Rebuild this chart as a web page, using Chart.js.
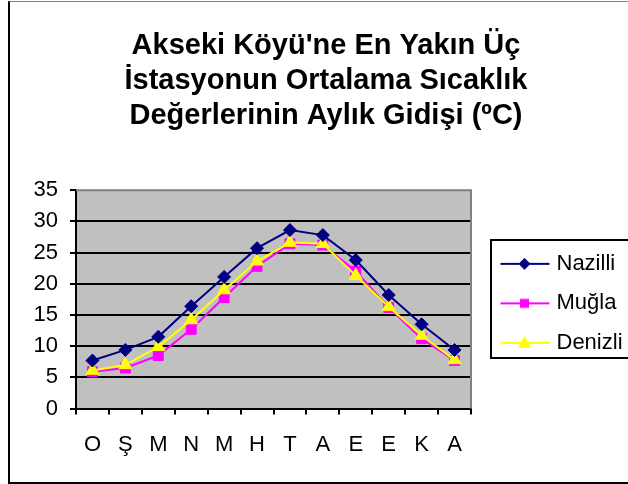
<!DOCTYPE html>
<html><head><meta charset="utf-8">
<script src="https://cdn.jsdelivr.net/npm/chart.js@4/dist/chart.umd.min.js"></script>
<style>
html,body{margin:0;padding:0;background:#fff;overflow:hidden;width:628px;height:484px;}
#wrap{position:absolute;left:0;top:0;width:652px;height:484px;}
#frame{position:absolute;left:8px;top:1px;width:700px;height:480px;border-left:2px solid #000;border-bottom:2px solid #000;border-top:1px solid #808080;pointer-events:none;}
canvas{position:absolute;left:0;top:0;}
</style></head><body>
<div id="wrap"><canvas id="c" width="652" height="484"></canvas><div id="frame"></div></div>
<script>
const months = ['O','Ş','M','N','M','H','T','A','E','E','K','A'];
const seriesNames = ['Nazilli','Muğla','Denizli'];
const nazilli = [7.7,9.4,11.5,16.4,21.1,25.7,28.6,27.8,23.8,18.2,13.5,9.4];
const mugla = [5.9,6.5,8.5,12.7,17.8,22.8,26.4,26.2,22.0,16.2,11.2,7.7];
const denizli = [6.1,7.0,9.9,14.2,19.0,23.6,26.6,26.4,21.3,16.3,11.7,7.8];
const yTicks = [0,5,10,15,20,25,30,35];
const titleLines = ["Akseki Köyü'ne En Yakın Üç","İstasyonun Ortalama Sıcaklık","Değerlerinin Aylık Gidişi (ºC)"];

const FONT = "'Liberation Sans', Arial, sans-serif";
const colors = ['#000080','#FF00FF','#FFFF00'];
const styles = ['rectRot','rect','triangle'];

function legendImg(color, style){
  const c = document.createElement('canvas');
  c.width = 70; c.height = 18;
  const g = c.getContext('2d');
  g.strokeStyle = color; g.lineWidth = 2;
  g.beginPath(); g.moveTo(18.5,9); g.lineTo(67.5,9); g.stroke();
  g.fillStyle = color;
  g.beginPath();
  const cx = 42.5;
  if (style==='rectRot'){ g.moveTo(cx,3); g.lineTo(cx+6,9); g.lineTo(cx,15); g.lineTo(cx-6,9); }
  else if (style==='rect'){ g.rect(cx-4.5,4.5,9,9); }
  else { g.moveTo(cx,2); g.lineTo(cx+6.5,14); g.lineTo(cx-6.5,14); }
  g.closePath(); g.fill();
  return c;
}
const legendImgs = colors.map((c,i)=>legendImg(c, styles[i]));

const plotDeco = {
  id:'plotDeco',
  beforeLayout(chart){
    const lg = chart.legend;
    if (lg && !lg._patched){
      const orig = lg.fit;
      lg.fit = function(){ orig.call(this); this.width = 153; };
      lg._patched = true;
    }
  },
  afterLayout(chart){
    const lg = chart.legend;
    if (lg){ lg.top += 4; lg.bottom += 4; }
  },
  beforeDraw(chart){
    const a = chart.chartArea, ctx = chart.ctx;
    ctx.save(); ctx.fillStyle = '#C0C0C0';
    ctx.fillRect(a.left, a.top, a.right-a.left, a.bottom-a.top);
    ctx.restore();
  },
  beforeDatasetsDraw(chart){
    const a = chart.chartArea, ctx = chart.ctx;
    ctx.save(); ctx.strokeStyle = '#808080'; ctx.lineWidth = 2;
    ctx.beginPath(); ctx.moveTo(a.left, a.top); ctx.lineTo(a.right, a.top); ctx.lineTo(a.right, a.bottom); ctx.stroke();
    ctx.restore();
  },
  afterDraw(chart){
    const lg = chart.legend; if(!lg || !lg.legendHitBoxes.length) return;
    const hb = lg.legendHitBoxes;
    const l = hb[0].left + 2;
    const t = hb[0].top - 13;
    const last = hb[hb.length-1];
    const b = last.top + last.height + 4;
    const r = 640;
    const ctx = chart.ctx;
    ctx.save(); ctx.strokeStyle = '#000'; ctx.lineWidth = 2;
    ctx.strokeRect(Math.round(l), Math.round(t), Math.round(r-l), Math.round(b-t));
    ctx.restore();
  }
};

new Chart(document.getElementById('c'), {
  type:'line',
  data:{
    labels: months,
    datasets:[
      {label:seriesNames[0], data:nazilli, borderColor:colors[0], backgroundColor:colors[0], pointStyle:styles[0], pointRadius:6.5, borderWidth:2, pointBorderWidth:1, order:0},
      {label:seriesNames[1], data:mugla, borderColor:colors[1], backgroundColor:colors[1], pointStyle:styles[1], pointRadius:7, borderWidth:2, pointBorderWidth:1, order:2},
      {label:seriesNames[2], data:denizli, borderColor:colors[2], backgroundColor:colors[2], pointStyle:styles[2], pointRadius:7.5, borderWidth:2, pointBorderWidth:1, order:1}
    ]
  },
  options:{
    responsive:false, animation:false, devicePixelRatio:1,
    layout:{padding:{left:28, right:28, top:0, bottom:9}},
    plugins:{
      tooltip:{enabled:false},
      title:{display:true, text:titleLines, color:'#000', font:{family:FONT, size:29, weight:'bold', lineHeight:1.22}, padding:{top:28, bottom:56}},
      legend:{position:'right', fullSize:false, align:'center',
        labels:{usePointStyle:true, pointStyleWidth:57, boxHeight:18, padding:17.5, color:'#000', font:{family:FONT, size:22},
          sort:(a,b)=>a.datasetIndex-b.datasetIndex,
          generateLabels:(chart)=>{
            const items = Chart.defaults.plugins.legend.labels.generateLabels(chart);
            items.forEach(it=>{ it.pointStyle = legendImgs[it.datasetIndex]; it.rotation = 0; });
            return items;
          }
        }
      }
    },
    scales:{
      x:{offset:true,
        grid:{offset:true, drawOnChartArea:false, drawTicks:true, tickLength:6, color:'#000', lineWidth:2},
        border:{color:'#000', width:2},
        ticks:{color:'#000', font:{family:FONT, size:22}, padding:17, maxRotation:0, autoSkip:false}
      },
      y:{min:0, max:35,
        afterBuildTicks:(s)=>{ s.ticks = yTicks.map(v=>({value:v})); },
        afterFit:(s)=>{ s.width = 48; },
        grid:{color:(c)=> (c.tick && c.tick.value===35) ? 'rgba(0,0,0,0)' : '#000', tickColor:'#000', lineWidth:2, tickLength:6},
        border:{color:'#000', width:2},
        ticks:{color:'#000', font:{family:FONT, size:22}, padding:12}
      }
    }
  },
  plugins:[plotDeco]
});
</script>
</body></html>
